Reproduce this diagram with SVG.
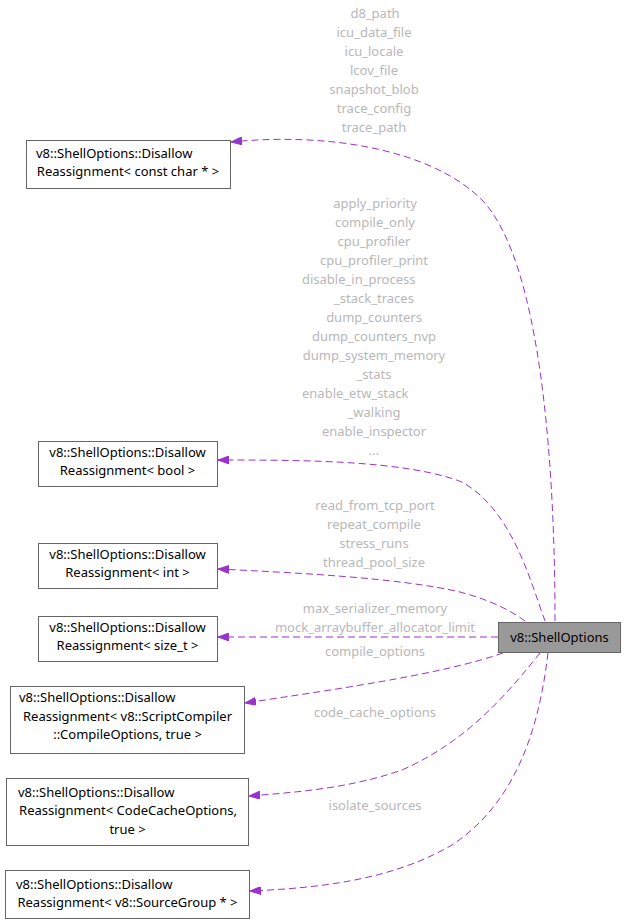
<svg xmlns="http://www.w3.org/2000/svg" width="625" height="924" viewBox="0 0 625 924">
<style>
.box{fill:#ffffff;stroke:#666666;stroke-width:1}
.main{fill:#999999;stroke:#666666;stroke-width:1}
.t{font-family:"Noto Sans","DejaVu Sans",sans-serif;font-size:13px;fill:#000000}
.c{text-anchor:middle}
.l{font-family:"Noto Sans","DejaVu Sans",sans-serif;font-size:13px;fill:#b8b8b8;text-anchor:middle}
.ls{text-anchor:start}
.e{fill:none;stroke:#9a32cd;stroke-width:1;stroke-dasharray:7,4}
</style>
<defs>
<marker id="ah" viewBox="0 0 11 8" refX="11" refY="4" markerWidth="11" markerHeight="8" markerUnits="userSpaceOnUse" orient="auto">
<path d="M0,0 L11,4 L0,8 Z" fill="#9a32cd" stroke="#9a32cd" stroke-width="1"/>
</marker>
</defs>
<rect width="625" height="924" fill="#ffffff"/>
<g id="connectors">
<path class="e" marker-end="url(#ah)" d="M555,621 C555,460 540,260 482,200 C432,150 330,132 231,142"/>
<path class="e" marker-end="url(#ah)" d="M545,621 C530,580 512,510 462,482 C405,460 300,460 218,460"/>
<path class="e" marker-end="url(#ah)" d="M525,621 C510,610 490,600 460,592 C400,578 300,573 218,569"/>
<path class="e" marker-end="url(#ah)" d="M498,637 L218,637"/>
<path class="e" marker-end="url(#ah)" d="M503,653 C440,675 330,690 245,703"/>
<path class="e" marker-end="url(#ah)" d="M540,653 C510,690 470,740 402,770 C350,788 300,792 249,796"/>
<path class="e" marker-end="url(#ah)" d="M548,653 C540,720 520,800 452,845 C392,880 320,888 250,891"/>
</g>
<g id="edge-labels">
<text class="l" x="375" y="17.5">d8_path</text>
<text class="l" x="374" y="36.5">icu_data_file</text>
<text class="l" x="374" y="55.5">icu_locale</text>
<text class="l" x="374" y="74.5">lcov_file</text>
<text class="l" x="374" y="93.5">snapshot_blob</text>
<text class="l" x="374" y="112.5">trace_config</text>
<text class="l" x="374" y="131.5">trace_path</text>
<text class="l" x="375" y="207.5">apply_priority</text>
<text class="l" x="375" y="226.5">compile_only</text>
<text class="l" x="374" y="245.5">cpu_profiler</text>
<text class="l" x="374" y="264.5">cpu_profiler_print</text>
<text class="l ls" x="302" y="283.5">disable_in_process</text>
<text class="l" x="374" y="302.5">_stack_traces</text>
<text class="l" x="374" y="321.5">dump_counters</text>
<text class="l" x="374" y="340.5">dump_counters_nvp</text>
<text class="l" x="374" y="359.5">dump_system_memory</text>
<text class="l" x="374" y="378.5">_stats</text>
<text class="l ls" x="302" y="397.5">enable_etw_stack</text>
<text class="l" x="374" y="416.5">_walking</text>
<text class="l" x="374" y="435.5">enable_inspector</text>
<text class="l" x="374" y="454.5">...</text>
<text class="l" x="375" y="510">read_from_tcp_port</text>
<text class="l" x="374" y="529">repeat_compile</text>
<text class="l" x="374" y="548">stress_runs</text>
<text class="l" x="374" y="567">thread_pool_size</text>
<text class="l" x="375" y="612.5">max_serializer_memory</text>
<text class="l" x="375" y="631.5">mock_arraybuffer_allocator_limit</text>
<text class="l" x="375" y="656">compile_options</text>
<text class="l" x="375" y="717">code_cache_options</text>
<text class="l" x="375" y="810">isolate_sources</text>
</g>
<g id="node-main">
<rect class="main" x="498.5" y="622.5" width="122" height="30"/>
<text class="t c" x="559.5" y="641.5">v8::ShellOptions</text>
</g>
<g id="node-constchar">
<rect class="box" x="26.5" y="140.5" width="204" height="48"/>
<text class="t" x="36" y="157.5">v8::ShellOptions::Disallow</text>
<text class="t c" x="128" y="175.5">Reassignment&lt; const char * &gt;</text>
</g>
<g id="node-bool">
<rect class="box" x="38.5" y="441.5" width="179" height="45"/>
<text class="t c" x="127.5" y="456.5">v8::ShellOptions::Disallow</text>
<text class="t c" x="127.5" y="474.5">Reassignment&lt; bool &gt;</text>
</g>
<g id="node-int">
<rect class="box" x="38.5" y="543.5" width="179" height="45"/>
<text class="t c" x="127.5" y="558.5">v8::ShellOptions::Disallow</text>
<text class="t c" x="127.5" y="576.5">Reassignment&lt; int &gt;</text>
</g>
<g id="node-sizet">
<rect class="box" x="38.5" y="616.5" width="179" height="45"/>
<text class="t c" x="127.5" y="631.5">v8::ShellOptions::Disallow</text>
<text class="t c" x="127.5" y="649.5">Reassignment&lt; size_t &gt;</text>
</g>
<g id="node-compileoptions">
<rect class="box" x="10.5" y="686.5" width="234" height="67"/>
<text class="t" x="19" y="702">v8::ShellOptions::Disallow</text>
<text class="t c" x="127.5" y="720.5">Reassignment&lt; v8::ScriptCompiler</text>
<text class="t c" x="127.5" y="739">::CompileOptions, true &gt;</text>
</g>
<g id="node-codecache">
<rect class="box" x="6.5" y="778.5" width="242" height="67"/>
<text class="t" x="18" y="796.5">v8::ShellOptions::Disallow</text>
<text class="t c" x="128" y="815">Reassignment&lt; CodeCacheOptions,</text>
<text class="t c" x="127.5" y="833.5">true &gt;</text>
</g>
<g id="node-sourcegroup">
<rect class="box" x="5.5" y="870.5" width="244" height="48"/>
<text class="t" x="16" y="888.5">v8::ShellOptions::Disallow</text>
<text class="t c" x="127.5" y="906.5">Reassignment&lt; v8::SourceGroup * &gt;</text>
</g>
</svg>
